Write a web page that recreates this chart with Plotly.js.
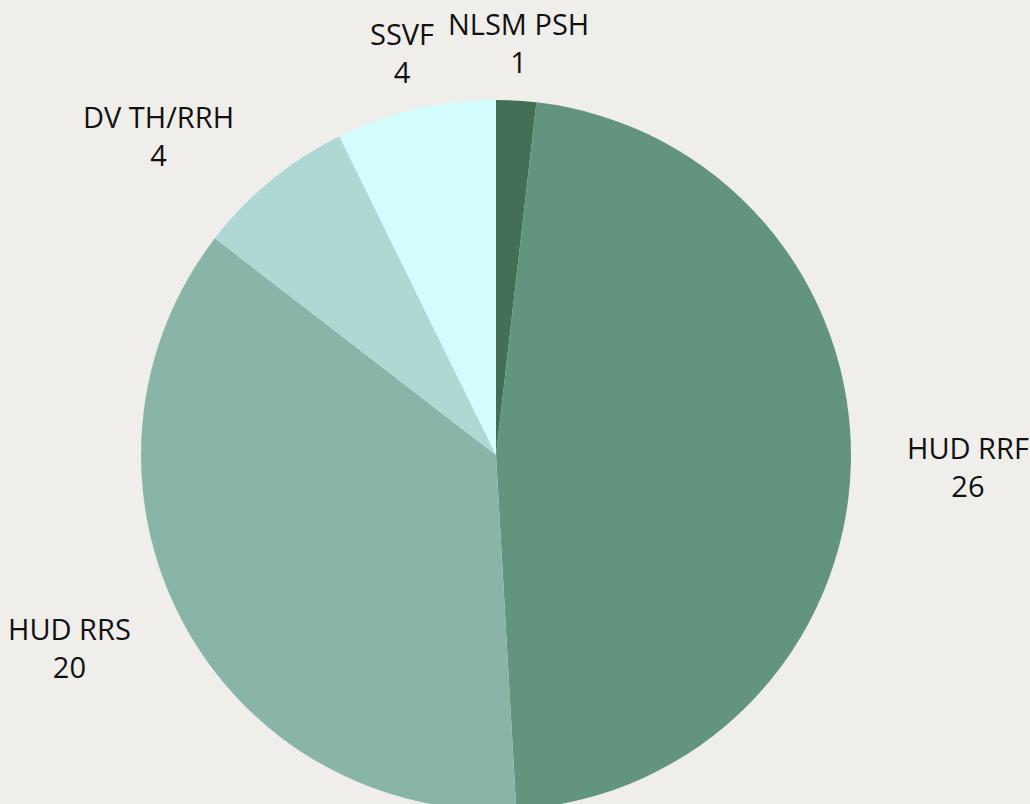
<!DOCTYPE html>
<html>
<head>
<meta charset="utf-8">
<script src="https://cdn.plot.ly/plotly-3.0.1.min.js"></script>
<style>
html,body{margin:0;padding:0;background:#f0eeeb;overflow:hidden;width:1030px;height:804px;}
#chart{width:1030px;height:820px;}
</style>
</head>
<body>
<div id="chart"></div>
<script>
const labels = ["NLSM PSH", "HUD RRF", "HUD RRS", "DV TH/RRH", "SSVF"];
const values = [1, 26, 20, 4, 4];
const colors = ["#426f55", "#63947d", "#89b5a8", "#add8d3", "#d3fdfd"];

const W = 1030, H = 820;
const CX = 496, CY = 455;          // pie centre in pixels (from top-left)
const RX = 472, RY = 413;          // label ellipse radii in pixels
const labelNudgeX = [-4, 0, -9, -39, 13];   // small horizontal label adjustments (px)

const total = values.reduce((a, b) => a + b, 0);
let cum = 0;
const annotations = labels.map((lab, i) => {
  const mid = (cum + values[i] / 2) / total * 2 * Math.PI;
  cum += values[i];
  const px = CX + RX * Math.sin(mid) + labelNudgeX[i];
  const py = CY - RY * Math.cos(mid);
  return {
    xref: "paper", yref: "paper",
    x: px / W, y: (H - py) / H,
    xanchor: "center", yanchor: "middle",
    text: lab + "<br>" + values[i],
    showarrow: false,
    align: "center",
    font: {family: "Open Sans, sans-serif", size: 29, color: "#111111"}
  };
});

const trace = {
  type: "pie",
  labels: labels,
  values: values,
  sort: false,
  direction: "clockwise",
  rotation: 0,
  marker: {colors: colors, line: {width: 0}},
  textinfo: "none",
  automargin: false,
  hoverinfo: "label+value",
  domain: {x: [0.1369, 0.8262], y: [0.0122, 0.878]},
  showlegend: false
};

const layout = {
  width: W,
  height: H,
  margin: {l: 0, r: 0, t: 0, b: 0},
  paper_bgcolor: "#f0eeeb",
  plot_bgcolor: "#f0eeeb",
  showlegend: false,
  annotations: annotations
};

Plotly.newPlot("chart", [trace], layout, {displayModeBar: false, staticPlot: true});
</script>
</body>
</html>
